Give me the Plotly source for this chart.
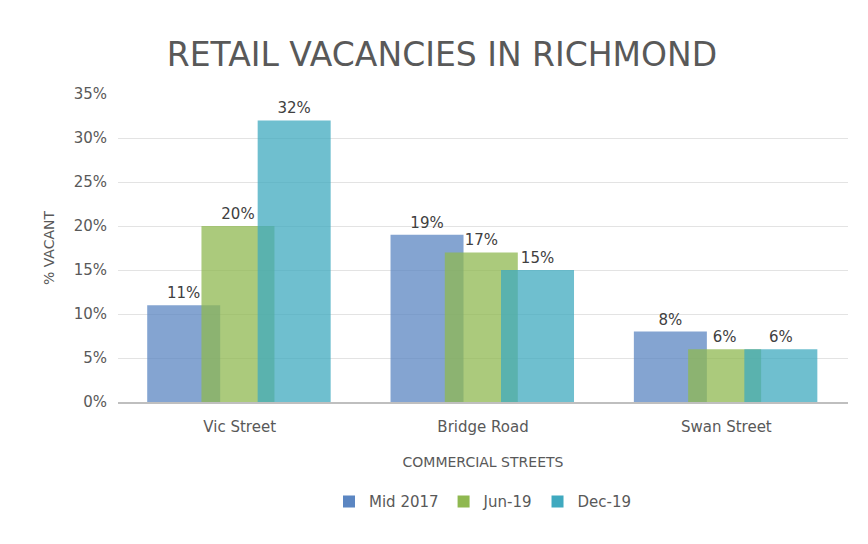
import plotly.graph_objects as go

categories = ["Vic Street", "Bridge Road", "Swan Street"]
series_names = ["Mid 2017", "Jun-19", "Dec-19"]
mid2017 = [0.11, 0.19, 0.08]
jun19 = [0.20, 0.17, 0.06]
dec19 = [0.32, 0.15, 0.06]
colors = ["#5b86c2", "#8fb850", "#3fa9bf"]

fig = go.Figure()
offsets = [-0.38, -0.157, 0.074]
for name, vals, c, off in zip(series_names, [mid2017, jun19, dec19], colors, offsets):
    fig.add_trace(go.Bar(
        x=categories, y=vals, name=name, width=0.30, offset=off,
        marker=dict(color=c, opacity=0.75, line=dict(width=0)),
        text=[f"{round(v*100)}%" for v in vals], textposition="outside",
        textfont=dict(size=15, color="#404040"), cliponaxis=False))

fig.update_layout(
    width=868, height=544, barmode="overlay", plot_bgcolor="white", paper_bgcolor="white",
    font=dict(family="DejaVu Sans", color="#595959"),
    title=dict(text="RETAIL VACANCIES IN RICHMOND", x=0.5, y=0.935, xanchor="center",
               font=dict(size=33, color="#595959")),
    margin=dict(l=110, r=28, t=86, b=150),
    xaxis=dict(title=dict(text="COMMERCIAL STREETS", font=dict(size=14), standoff=22),
               tickfont=dict(size=15), ticklabelstandoff=10,
               showline=True, linecolor="#bfbfbf", linewidth=2, ticks=""),
    yaxis=dict(title=dict(text="% VACANT", font=dict(size=14)), range=[0, 0.35], dtick=0.05,
               tickformat=".0%", tickfont=dict(size=15), ticklabelstandoff=10,
               gridcolor="#e3e3e3", zeroline=False),
    legend=dict(orientation="h", x=0.5, xanchor="center", y=-0.27, yanchor="top",
                font=dict(size=15)),
)
fig.write_html("out.html")
